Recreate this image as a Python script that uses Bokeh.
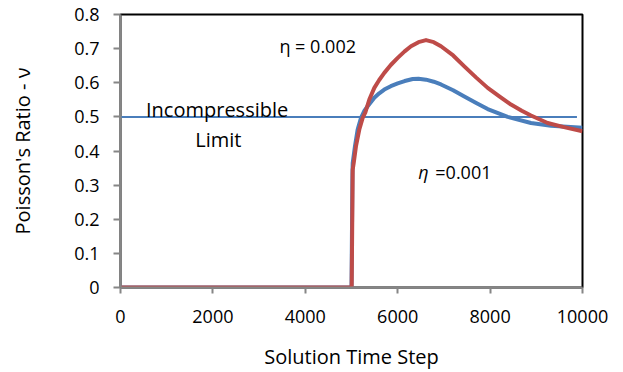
from bokeh.plotting import figure
from bokeh.models import FixedTicker
from bokeh.core.properties import value
from bokeh.embed import file_html
from bokeh.resources import INLINE

# ---- data ----
steps_002 = [0, 4990, 5004, 5026, 5048, 5097, 5169, 5242, 5300, 5386, 5494, 5600, 5710, 5850,
             6000, 6150, 6288, 6450, 6613, 6780, 6937, 7200, 7442, 7700, 7948, 8200, 8452,
             8685, 8885, 9246, 9600, 10000]
nu_002 = [0, 0, 0, 0.345, 0.365, 0.414, 0.463, 0.497, 0.513, 0.551, 0.585, 0.608, 0.629, 0.652,
          0.673, 0.692, 0.707, 0.719, 0.725, 0.719, 0.707, 0.680, 0.648, 0.615, 0.585, 0.560,
          0.536, 0.518, 0.504, 0.482, 0.470, 0.458]

steps_001 = [0, 4990, 5000, 5020, 5026, 5075, 5133, 5206, 5280, 5350, 5494, 5600, 5710, 5850,
             6000, 6150, 6324, 6450, 6613, 6780, 6937, 7200, 7442, 7700, 7948, 8381, 8885,
             9318, 10000]
nu_001 = [0, 0, 0, 0.33, 0.365, 0.414, 0.463, 0.497, 0.518, 0.531, 0.556, 0.569, 0.580, 0.590,
          0.598, 0.605, 0.611, 0.612, 0.609, 0.603, 0.595, 0.578, 0.560, 0.541, 0.523, 0.500,
          0.482, 0.474, 0.468]

limit_x = [-270, 9880]
limit_y = [0.5, 0.5]

x_ticks = [0, 2000, 4000, 6000, 8000, 10000]
y_ticks = [0, 0.1, 0.2, 0.3, 0.4, 0.5, 0.6, 0.7, 0.8]

FONT = "Open Sans"
BLUE = "#4A7EBB"
RED = "#BE4B48"
GRAY = "#868686"

p = figure(frame_width=462, frame_height=273, x_range=(0, 10000), y_range=(0, 0.8),
           output_backend="svg", toolbar_location=None,
           min_border_left=120, min_border_top=14, min_border_right=34, min_border_bottom=82)

p.background_fill_color = "white"
p.border_fill_color = "white"
p.outline_line_color = "black"
p.outline_line_width = 2
p.xgrid.visible = False
p.ygrid.visible = False

# axes
p.xaxis.ticker = FixedTicker(ticks=x_ticks)
p.yaxis.ticker = FixedTicker(ticks=y_ticks)
p.yaxis.major_label_overrides = {0: "0"}
for ax in (p.xaxis, p.yaxis):
    ax.axis_line_color = GRAY
    ax.axis_line_width = 2
    ax.major_tick_line_color = GRAY
    ax.major_tick_line_width = 2
    ax.major_tick_in = 0
    ax.minor_tick_line_color = None
    ax.major_label_text_font = FONT
    ax.major_label_text_font_size = "18px"
    ax.major_label_text_color = "black"
    ax.axis_label_text_font = FONT
    ax.axis_label_text_font_size = "20px"
    ax.axis_label_text_font_style = "normal"
    ax.axis_label_text_color = "black"

p.xaxis.major_tick_out = 6
p.yaxis.major_tick_out = 7
p.xaxis.major_label_standoff = 16
p.yaxis.major_label_standoff = 14
p.xaxis.axis_label = "Solution Time Step"
p.yaxis.axis_label = "Poisson's Ratio - ν"
p.xaxis.axis_label_standoff = 17
p.yaxis.axis_label_standoff = 35

# lines
p.line(limit_x, limit_y, line_color=BLUE, line_width=2)
p.line(steps_001, nu_001, line_color=BLUE, line_width=4, line_join="round")
p.line(steps_002, nu_002, line_color=RED, line_width=4, line_join="round")

# annotations
p.text(x=[552], y=[0.521], text=["Incompressible"], text_font=value(FONT),
       text_font_size="20px", text_color="black", text_baseline="alphabetic", text_align="left")
p.text(x=[1619], y=[0.435], text=["Limit"], text_font=value(FONT),
       text_font_size="20px", text_color="black", text_baseline="alphabetic", text_align="left")
p.text(x=[5097], y=[0.707], text=["η = 0.002"], text_font=value(FONT),
       text_font_size="18px", text_color="black", text_baseline="alphabetic", text_align="right")
p.text(x=[6446], y=[0.337], text=["η"], text_font=value(FONT), text_font_style="italic",
       text_font_size="18px", text_color="black", text_baseline="alphabetic", text_align="left")
p.text(x=[6814], y=[0.337], text=["=0.001"], text_font=value(FONT),
       text_font_size="18px", text_color="black", text_baseline="alphabetic", text_align="left")

open("out.html", "w").write(file_html(p, INLINE))
